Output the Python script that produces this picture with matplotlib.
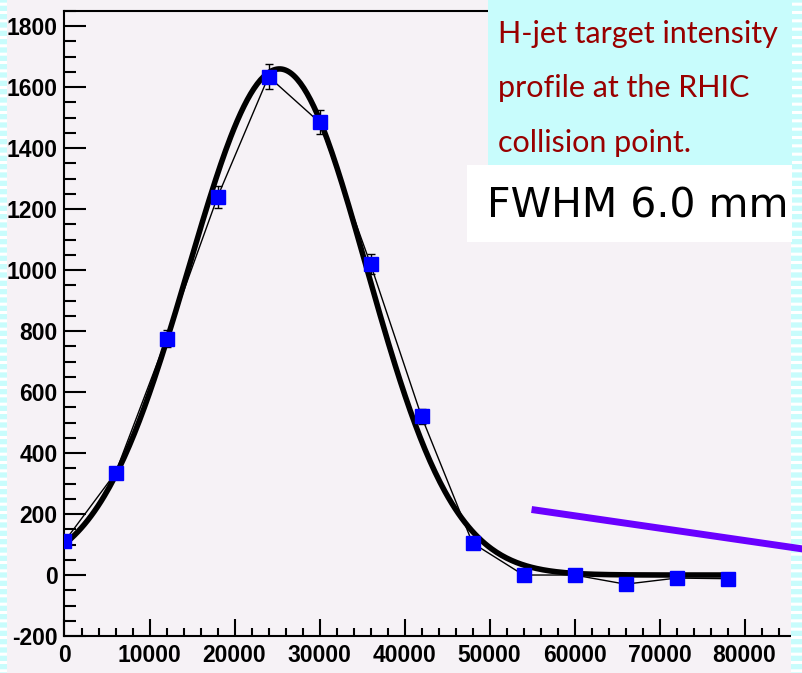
import numpy as np
import matplotlib
matplotlib.use("Agg")
import matplotlib.pyplot as plt
from matplotlib.patches import Rectangle
from matplotlib.lines import Line2D

# scan position vs. counts, with statistical errors
positions = [0, 6000, 12000, 18000, 24000, 30000, 36000,
             42000, 48000, 54000, 60000, 66000, 72000, 78000]
counts = [110, 335, 775, 1240, 1635, 1485, 1020,
          520, 105, 0, 0, -30, -10, -12]
errors = [10, 18, 28, 35, 40, 39, 32, 23, 10, 6, 6, 6, 6, 6]

# split-gaussian fit parameters
fit_amp = 1660
fit_mean = 25300
fit_sigma_left = 10700
fit_sigma_right = 10250

caption = ["H-jet target intensity", "profile at the RHIC", "collision point."]

W, H = 803, 673
BG = "#f6f2f6"
CYAN = "#c8fcfc"

plt.rcParams["hatch.linewidth"] = 2.2
fig = plt.figure(figsize=(W / 100, H / 100), dpi=100, facecolor=BG)


def px(x0, y0, x1, y1):
    # pixel box (top-left origin) -> figure fraction rect
    return [x0 / W, 1 - y1 / H, (x1 - x0) / W, (y1 - y0) / H]


ax = fig.add_axes(px(64.5, 11, 791, 636))
ax.set_facecolor(BG)

xf = np.linspace(0, 78000, 400)
sig = np.where(xf < fit_mean, fit_sigma_left, fit_sigma_right)
yf = fit_amp * np.exp(-(xf - fit_mean) ** 2 / (2 * sig ** 2))
ax.plot(xf, yf, color="black", lw=4.0, zorder=3, solid_capstyle="round")
ax.errorbar(positions, counts, yerr=errors, color="black", lw=1.0,
            elinewidth=1.0, capsize=3, capthick=1.0, zorder=4,
            marker="s", ms=9.5, mfc="#0000ff", mec="#0000ff")

ax.set_xlim(0, 85470)
ax.set_ylim(-200, 1850)
ax.set_xticks(np.arange(0, 80001, 10000))
ax.set_xticks(np.arange(0, 85001, 2000), minor=True)
ax.set_yticks(np.arange(-200, 1801, 200))
ax.set_yticks(np.arange(-200, 1851, 50), minor=True)

tick_font = {"family": "Liberation Sans", "weight": "bold", "size": 16.5}
ax.set_xticklabels([f"{v}" for v in range(0, 80001, 10000)], fontdict=tick_font)
ax.set_yticklabels([f"{v}" for v in range(-200, 1801, 200)], fontdict=tick_font)
ax.tick_params(axis="y", which="major", direction="in", length=16, width=1.5, pad=5)
ax.tick_params(axis="y", which="minor", direction="in", length=8.5, width=1.5)
ax.tick_params(axis="x", which="major", direction="in", length=12, width=1.5, pad=6)
ax.tick_params(axis="x", which="minor", direction="in", length=6, width=1.5)
for s in ("left", "bottom", "top"):
    ax.spines[s].set_linewidth(1.5)
ax.spines["right"].set_visible(False)

# slide decorations: striped side bands, caption boxes, pointer line
for x0, x1 in ((0, 7), (791, W)):
    fig.patches.append(Rectangle((x0 / W, 0), (x1 - x0) / W, 1,
                                 transform=fig.transFigure, facecolor=CYAN,
                                 edgecolor="white", hatch="--", lw=0, zorder=5))
b = px(488, 0, 792, 165)
fig.patches.append(Rectangle((b[0], b[1]), b[2], b[3], transform=fig.transFigure,
                             facecolor=CYAN, lw=0, zorder=6))
for i, line in enumerate(caption):
    fig.text(498 / W, 1 - (43 + 54.5 * i) / H, line, color="#990000",
             family=["Lato", "DejaVu Sans"], fontsize=22,
             va="baseline", ha="left", zorder=7)
b = px(467, 165, 792, 242)
fig.patches.append(Rectangle((b[0], b[1]), b[2], b[3], transform=fig.transFigure,
                             facecolor="white", lw=0, zorder=6))
fig.text(487 / W, 1 - 206 / H, "FWHM 6.0 mm", color="black",
         family="DejaVu Sans", fontsize=29.5, va="center", ha="left", zorder=7)
fig.lines.append(Line2D([535 / W, 803 / W], [1 - 510 / H, 1 - 549 / H],
                        transform=fig.transFigure, color="#6a00ff", lw=5,
                        zorder=8))

fig.savefig("out.png", dpi=100, facecolor=BG)
